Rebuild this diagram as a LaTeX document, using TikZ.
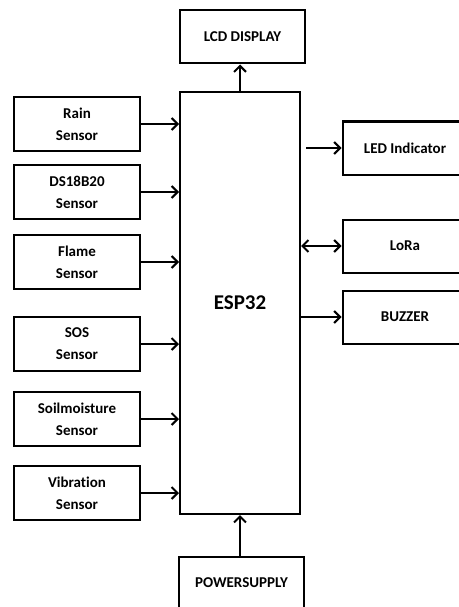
\documentclass[tikz,border=0pt]{standalone}
\usepackage{fontspec}
\setmainfont{Carlito}[Ligatures=NoCommon]
\usetikzlibrary{positioning,arrows.meta}
\tikzset{
  blk box/.style={
    draw=black,
    line width=2pt,
    align=center,
    font=\fontsize{15}{22}\selectfont\bfseries,
    inner sep=2pt,
    minimum width=126pt,
    minimum height=54pt
  },
  blk sensor/.style={blk box},
  blk out/.style={blk box, minimum width=125pt, minimum height=53pt},
  blk core/.style={blk box, minimum width=120pt, minimum height=422pt, font=\fontsize{21}{25}\selectfont\bfseries},
  blk arrow/.style={-{Straight Barb[length=6pt,width=12pt]}, line width=2pt},
  blk both/.style={{Straight Barb[length=6pt,width=12pt]}-{Straight Barb[length=6pt,width=12pt]}, line width=2pt}
}
\begin{document}
\begin{tikzpicture}[x=1pt, y=-1pt, node distance=12pt]
\useasboundingbox (0,0) rectangle (458,607);
% controller and top/bottom blocks
\node[blk core] (esp) at (240,303) {ESP32};
\node[blk out] (lcd) at (242.5,37) {LCD DISPLAY};
\node[blk out] (power) at (241.5,583) {POWERSUPPLY};
% sensors on the left
\node[blk sensor] (rain) at (77,124) {Rain\\Sensor};
\node[blk sensor, below=of rain] (ds) {DS18B20\\Sensor};
\node[blk sensor, below=14pt of ds] (flame) {Flame\\Sensor};
\node[blk sensor, below=26pt of flame] (sos) {SOS\\Sensor};
\node[blk sensor, below=19pt of sos] (soil) {Soilmoisture\\Sensor};
\node[blk sensor, below=18pt of soil] (vib) {Vibration\\Sensor};
% outputs on the right
\node[blk out] (led) at (405,148) {LED Indicator};
\node[blk out, below=43pt of led] (lora) {LoRa};
\node[blk out, below=16pt of lora] (buzzer) {BUZZER};
\foreach \s in {rain,ds,flame,sos,soil,vib}
  \draw[blk arrow] (\s.east) -- (\s.east -| esp.west);
\draw[blk arrow] (esp.north) -- (esp.north |- lcd.south);
\draw[blk arrow] (esp.south |- power.north) -- (esp.south);
\draw[blk arrow, shorten <=5pt] (esp.east |- led.west) -- (led.west);
\draw[blk both] (esp.east |- lora.west) -- (lora.west);
\draw[blk arrow] (esp.east |- buzzer.west) -- (buzzer.west);
\end{tikzpicture}
\end{document}
